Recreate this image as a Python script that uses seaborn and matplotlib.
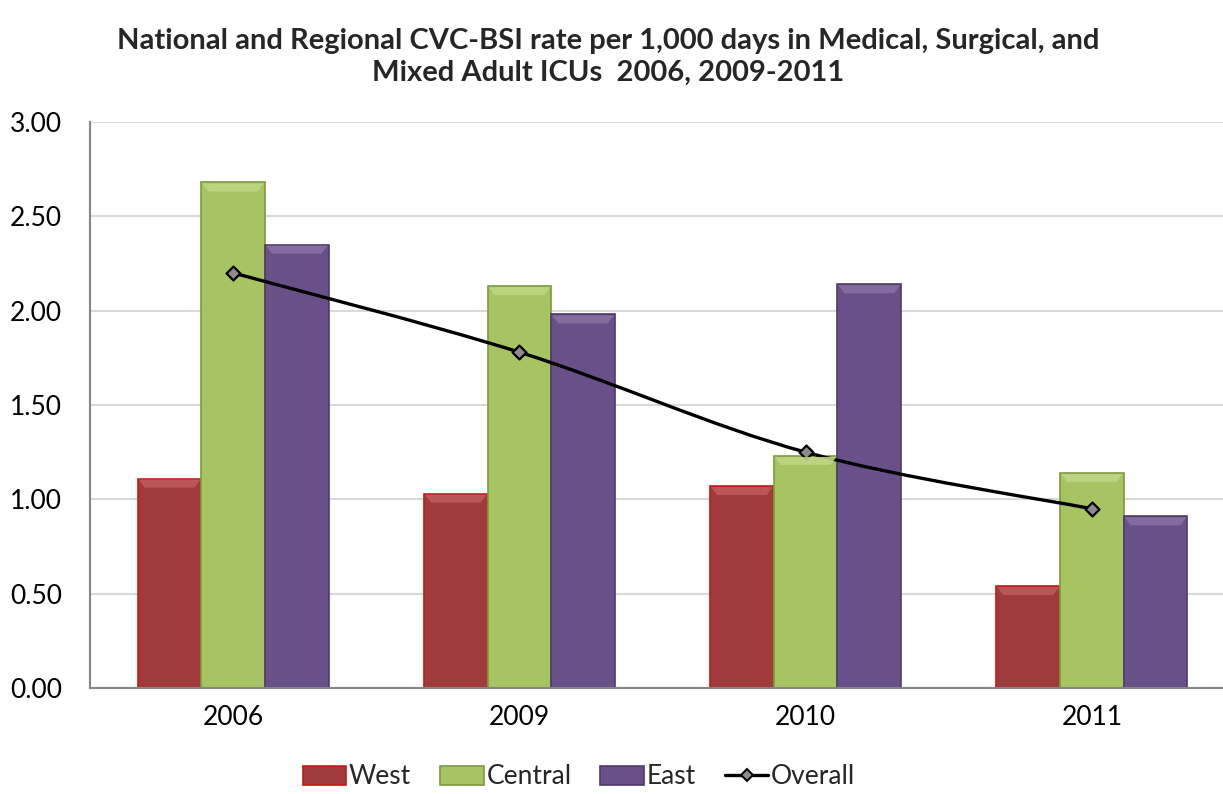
import numpy as np
import pandas as pd
import matplotlib
matplotlib.use("Agg")
import matplotlib.pyplot as plt
from matplotlib.path import Path
from matplotlib.patches import PathPatch, Polygon, Rectangle
from matplotlib.lines import Line2D
import seaborn as sns

# ---- data ----
years = ["2006", "2009", "2010", "2011"]
regions = ["West", "Central", "East"]
west = [1.11, 1.03, 1.07, 0.54]
central = [2.68, 2.13, 1.23, 1.14]
east = [2.35, 1.98, 2.14, 0.91]
overall = [2.20, 1.78, 1.25, 0.95]
y_ticks = [0.0, 0.5, 1.0, 1.5, 2.0, 2.5, 3.0]

title = ("National and Regional CVC-BSI rate per 1,000 days in Medical, Surgical, and\n"
         "Mixed Adult ICUs  2006, 2009-2011")

colors = {"West": "#A03B3B", "Central": "#A6C462", "East": "#6A5089"}
edges = {"West": "#C41A1A", "Central": "#7E9A3E", "East": "#4E3A6A"}
tops = {"West": "#BF5A5A", "Central": "#BED683", "East": "#8670A3"}

df = pd.DataFrame({
    "Year": years * 3,
    "Region": ["West"] * 4 + ["Central"] * 4 + ["East"] * 4,
    "Rate": west + central + east,
})

sns.set_theme(style="white")
plt.rcParams["font.family"] = ["Lato", "DejaVu Sans"]

W, H = 1223, 794
fig = plt.figure(figsize=(W / 100, H / 100), dpi=100)
ax = fig.add_axes([90 / W, 1 - 688 / H, 1145 / W, (688 - 122) / H])

sns.barplot(data=df, x="Year", y="Rate", hue="Region", order=years,
            hue_order=regions, palette=colors, width=0.667, gap=0,
            saturation=1, errorbar=None, legend=False, ax=ax, zorder=2)

ax.set_ylim(0, 3.0)
ax.set_xlim(-0.5, 3.5)
ax.set_yticks(y_ticks)
ax.set_yticklabels([f"{v:.2f}" for v in y_ticks])
ax.yaxis.grid(True, color="#D9D9D9", lw=1.5, zorder=0)
ax.set_axisbelow(True)
ax.set_xlabel("")
ax.set_ylabel("")
for s in ["top", "right"]:
    ax.spines[s].set_visible(False)
for s in ["left", "bottom"]:
    ax.spines[s].set_color("#868686")
    ax.spines[s].set_linewidth(1.5)
ax.tick_params(axis="both", length=0, labelsize=19, colors="black")
ax.tick_params(axis="y", pad=20)
ax.tick_params(axis="x", pad=12)

# bevelled look on each bar: edge colour plus a lighter top strip
fig.canvas.draw()
bars = [p for p in ax.patches if isinstance(p, Rectangle)]
n = len(years)
for i, p in enumerate(bars[: n * len(regions)]):
    reg = regions[i // n]
    p.set_edgecolor(edges[reg])
    p.set_linewidth(1.2)
    x0, y0 = p.get_x(), 0
    x1, y1 = p.get_x() + p.get_width(), p.get_height()
    (px0, py0), (px1, py1) = ax.transData.transform([(x0, y0), (x1, y1)])
    inset, depth = 7, 9
    poly = Polygon([(px0 + 1, py1 - 1), (px1 - 1, py1 - 1),
                    (px1 - inset, py1 - depth), (px0 + inset, py1 - depth)],
                   closed=True, transform=None, facecolor=tops[reg],
                   edgecolor="none", alpha=0.9, zorder=3)
    fig.add_artist(poly)
    poly.set_clip_path(ax.patch)

# smoothed overall line (Catmull-Rom segments as cubic Beziers)
xs = np.arange(len(years), dtype=float)
ys = np.array(overall)
pts = np.column_stack([xs, ys])
verts = [pts[0]]
codes = [Path.MOVETO]
for k in range(len(pts) - 1):
    p0 = pts[k - 1] if k > 0 else pts[k]
    p1, p2 = pts[k], pts[k + 1]
    p3 = pts[k + 2] if k + 2 < len(pts) else pts[k + 1]
    c1 = p1 + (p2 - p0) / 6.0
    c2 = p2 - (p3 - p1) / 6.0
    verts += [c1, c2, p2]
    codes += [Path.CURVE4] * 3
ax.add_patch(PathPatch(Path(verts, codes), facecolor="none", edgecolor="black",
                       lw=2.4, zorder=5, capstyle="round"))
sns.scatterplot(x=xs, y=ys, marker="D", s=50, color="#8C8C8C",
                edgecolor="black", linewidth=1.6, zorder=6, ax=ax, legend=False)

# legend
handles = [Rectangle((0, 0), 1, 1, facecolor=colors[r], edgecolor=edges[r], lw=1.2)
           for r in regions]
handles.append(Line2D([0], [0], color="black", lw=2.4, marker="D", markersize=6,
                      markerfacecolor="#8C8C8C", markeredgecolor="black",
                      markeredgewidth=1.4))
fig.legend(handles, regions + ["Overall"], loc="center", ncol=4,
           bbox_to_anchor=(579 / W, 1 - 777 / H), frameon=False, fontsize=19,
           handlelength=1.65, handleheight=0.75, handletextpad=0.1,
           columnspacing=1.1)

fig.text(608 / W, 1 - 57 / H, title, ha="center", va="center", fontsize=21,
         fontweight="bold", linespacing=1.3)

fig.savefig("out.png", dpi=100)
